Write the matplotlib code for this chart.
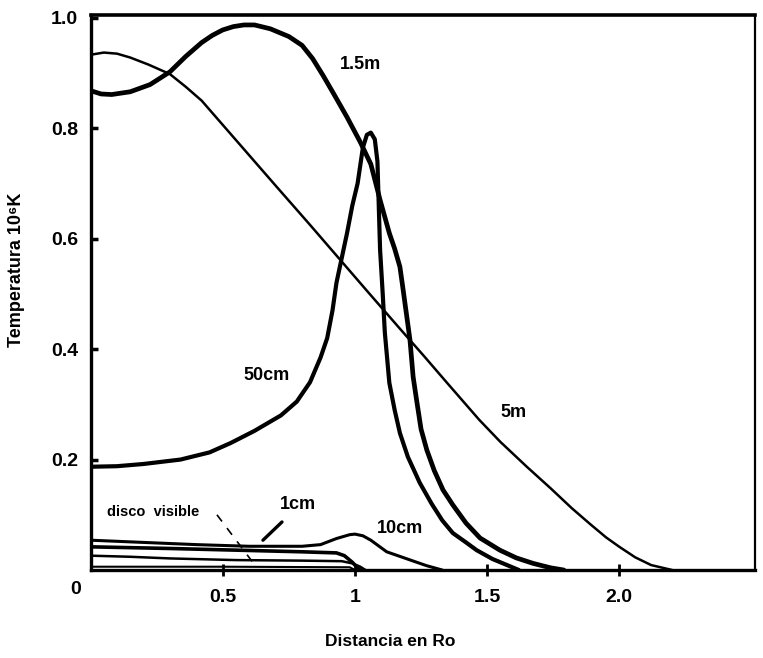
import matplotlib
matplotlib.use("Agg")
import matplotlib.pyplot as plt

plt.rcParams['font.family'] = ['Liberation Sans', 'DejaVu Sans']
plt.rcParams['font.weight'] = 'bold'

# curves (x in Ro, y in 10^6 K)
x_15m = [0.0, 0.04, 0.08, 0.15, 0.225, 0.30, 0.36, 0.42, 0.46, 0.50, 0.54, 0.58, 0.62, 0.68,
         0.75, 0.80, 0.84, 0.88, 0.92, 0.97, 1.02, 1.06, 1.095, 1.13, 1.15, 1.17, 1.18, 1.19,
         1.208, 1.22, 1.233, 1.25, 1.272, 1.30, 1.333, 1.37, 1.42, 1.473, 1.548, 1.61, 1.674,
         1.74, 1.79]
y_15m = [0.868, 0.862, 0.861, 0.866, 0.879, 0.902, 0.93, 0.955, 0.968, 0.978, 0.984, 0.987,
         0.987, 0.98, 0.966, 0.95, 0.926, 0.895, 0.862, 0.82, 0.775, 0.735, 0.67, 0.61, 0.582,
         0.549, 0.515, 0.48, 0.417, 0.35, 0.308, 0.255, 0.217, 0.18, 0.145, 0.118, 0.085,
         0.058, 0.036, 0.022, 0.012, 0.004, 0.0]

x_50cm = [0.0, 0.1, 0.2, 0.34, 0.45, 0.53, 0.62, 0.72, 0.78, 0.83, 0.87, 0.895, 0.915, 0.93,
          0.95, 0.97, 0.99, 1.01, 1.03, 1.045, 1.06, 1.075, 1.085, 1.09, 1.095, 1.105, 1.113,
          1.13, 1.15, 1.17, 1.2, 1.245, 1.29, 1.33, 1.37, 1.42, 1.46, 1.52, 1.57, 1.62]
y_50cm = [0.187, 0.188, 0.192, 0.2, 0.213, 0.23, 0.252, 0.28, 0.305, 0.34, 0.385, 0.42, 0.47, 0.52,
          0.565, 0.61, 0.66, 0.70, 0.765, 0.788, 0.792, 0.78, 0.74, 0.66, 0.58, 0.50, 0.43,
          0.339, 0.29, 0.248, 0.205, 0.158, 0.12, 0.09, 0.067, 0.05, 0.036, 0.02, 0.01, 0.0]

x_5m = [0.0, 0.05, 0.10, 0.15, 0.22, 0.30, 0.36, 0.42, 0.5, 0.6, 0.7, 0.83, 0.94, 1.05, 1.17,
        1.26, 1.35, 1.47, 1.55, 1.65, 1.74, 1.82, 1.89, 1.95, 2.0, 2.06, 2.12, 2.2]
y_5m = [0.933, 0.937, 0.935, 0.928, 0.915, 0.898, 0.875, 0.85, 0.806, 0.751, 0.696, 0.625, 0.564,
        0.503, 0.437, 0.388, 0.338, 0.272, 0.232, 0.187, 0.148, 0.112, 0.083, 0.059, 0.042,
        0.023, 0.009, 0.0]

x_10cm = [0.0, 0.2, 0.4, 0.6, 0.8, 0.87, 0.93, 0.98, 1.0, 1.03, 1.06, 1.12, 1.21, 1.27, 1.33]
y_10cm = [0.054, 0.05, 0.046, 0.043, 0.043, 0.046, 0.057, 0.064, 0.065, 0.062, 0.054, 0.033,
          0.018, 0.008, 0.0]

x_1cm = [0.0, 0.3, 0.55, 0.8, 0.93, 0.96, 0.99, 1.01, 1.02]
y_1cm = [0.042, 0.039, 0.036, 0.033, 0.031, 0.026, 0.014, 0.004, 0.0]

x_disco = [0.0, 0.15, 0.3, 0.55, 0.8, 0.95, 0.99, 1.02, 1.04]
y_disco = [0.026, 0.024, 0.021, 0.018, 0.017, 0.016, 0.012, 0.006, 0.0]

x_base = [0.0, 0.5, 0.98, 1.0]
y_base = [0.006, 0.006, 0.005, 0.0]

xticks = [0.5, 1.0, 1.5, 2.0]
xticklabels = ['0.5', '1', '1.5', '2.0']
yticks = [0.2, 0.4, 0.6, 0.8, 1.0]
yticklabels = ['0.2', '0.4', '0.6', '0.8', '1.0']

fig = plt.figure(figsize=(7.63, 6.58), dpi=100)
ax = fig.add_axes([0.1187, 0.1337, 0.8708, 0.8435])

kw = dict(color='black', solid_capstyle='round', solid_joinstyle='round')
ax.plot(x_15m, y_15m, lw=3.4, **kw)
ax.plot(x_50cm, y_50cm, lw=3.0, **kw)
ax.plot(x_5m, y_5m, lw=1.8, **kw)
ax.plot(x_10cm, y_10cm, lw=2.2, **kw)
ax.plot(x_1cm, y_1cm, lw=2.6, **kw)
ax.plot(x_disco, y_disco, lw=1.8, **kw)
ax.plot(x_base, y_base, lw=1.5, **kw)

# pointers of the small labels
ax.plot([0.652, 0.724], [0.054, 0.087], lw=2.4, **kw)
ax.plot([0.478, 0.615], [0.10, 0.013], color='black', lw=1.2, linestyle=(0, (5, 5)))

ax.set_xlim(0, 2.513)
ax.set_ylim(0, 1.005)

ax.set_xticks(xticks)
ax.set_xticklabels(xticklabels)
ax.set_yticks(yticks)
ax.set_yticklabels(yticklabels)
ax.tick_params(axis='x', direction='inout', length=9, width=2, pad=9, labelsize=14)
ax.tick_params(axis='y', direction='in', length=5, width=2.5, pad=9, labelsize=14)
for lab in ax.get_xticklabels() + ax.get_yticklabels():
    lab.set_fontweight('bold')

for side, w in [('left', 2.4), ('bottom', 2.4), ('top', 2.6), ('right', 1.6)]:
    ax.spines[side].set_linewidth(w)

ax.text(-0.055, -0.035, '0', fontsize=14, fontweight='bold', ha='center', va='center',
        clip_on=False)

lab = dict(fontsize=13, fontweight='bold', ha='center', va='center')
ax.text(1.02, 0.915, '1.5m', **lab)
ax.text(0.667, 0.353, '50cm', **lab)
ax.text(1.598, 0.286, '5m', **lab)
ax.text(1.17, 0.076, '10cm', **lab)
ax.text(0.785, 0.118, '1cm', **lab)
ax.text(0.237, 0.105, 'disco  visible', fontsize=10.5, fontweight='bold', ha='center',
        va='center')

fig.text(390 / 763, 1 - 641 / 658, 'Distancia en Ro', fontsize=12.5, fontweight='bold',
         ha='center', va='center')
fig.text(17 / 763, 1 - 270 / 658, 'Temperatura 10⁶K', fontsize=13, fontweight='bold',
         rotation=90, ha='center', va='center')

fig.savefig('out.png', dpi=100, facecolor='white')
